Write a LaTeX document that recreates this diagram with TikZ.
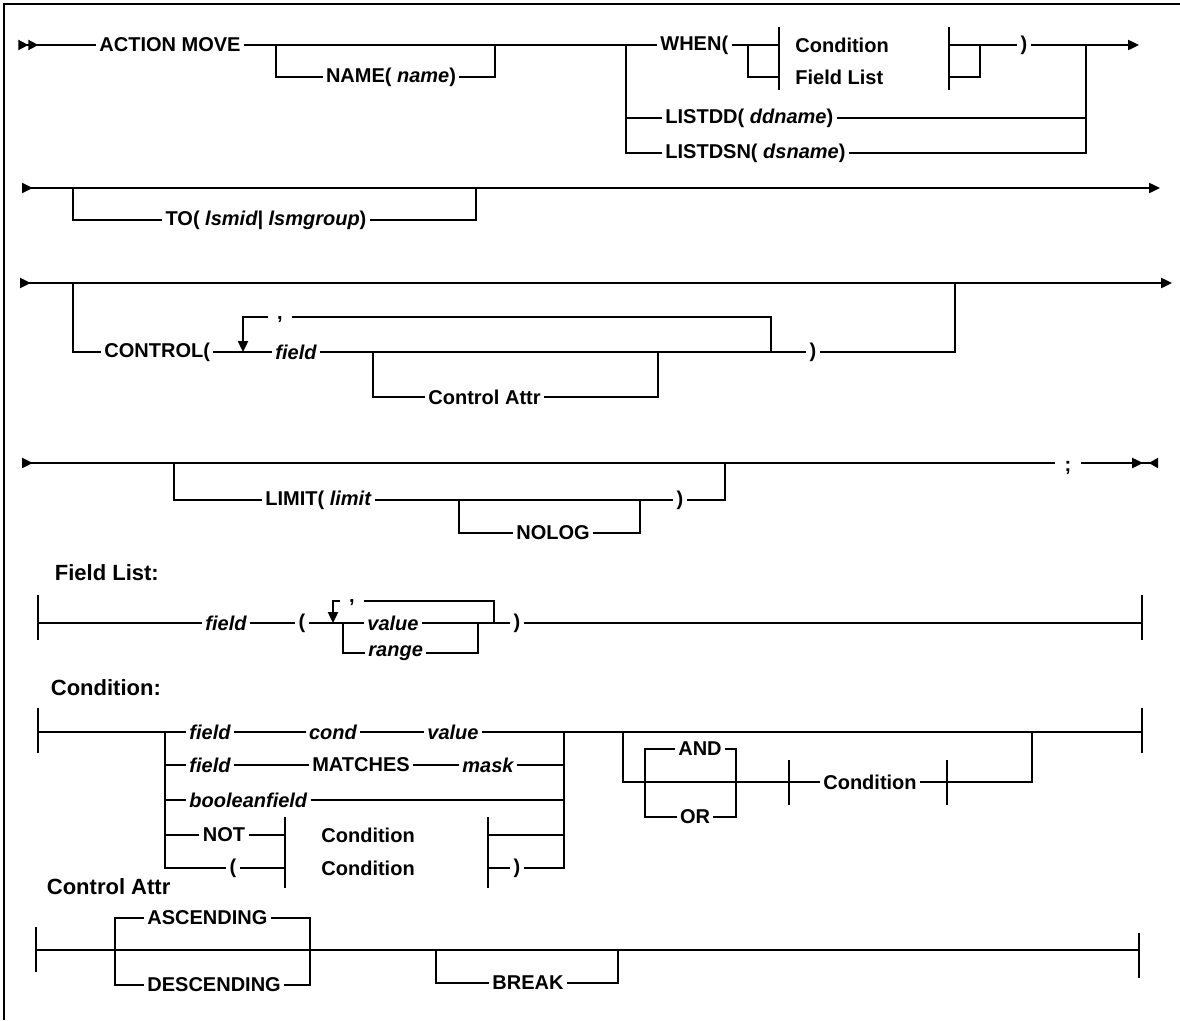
\documentclass[tikz,border=0pt]{standalone}
\usepackage{fontspec}
\setmainfont{Liberation Sans}
\usepackage{tikz}
\usetikzlibrary{arrows.meta}
\newcommand{\kwfont}{\fontsize{12}{14}\selectfont\bfseries}
\newcommand{\hdfont}{\fontsize{13.2}{15}\selectfont\bfseries}
\newcommand{\railbar}[3]{\draw (#1) ++(0,-#2) -- ++(0,#2+#3);}

\begin{document}
\begin{tikzpicture}[x=0.6pt,y=-0.6pt,line width=1.1pt,>={Triangle[length=6.5pt,width=6pt]},
kw/.style={font=\kwfont,inner sep=1.5pt},
var/.style={font=\kwfont\itshape,inner sep=1.5pt},
hdr/.style={font=\hdfont,anchor=west,inner sep=0pt},
punct/.style={font=\kwfont,anchor=north,inner xsep=5pt,inner ysep=0pt},
begin/.style={arrows={{Triangle[reversed,length=6pt,width=6pt,sep=2pt]Triangle[reversed,length=6pt,width=6pt]}-}},
rowin/.style={arrows={{Triangle[reversed,length=6.5pt,width=6pt]}->}},
rowcont/.style={arrows={{Triangle[reversed,length=6.5pt,width=6pt]}-}},
halt/.style={arrows={-{Triangle[length=6.5pt,width=6pt,sep=3.5pt]Triangle[reversed,length=5.5pt,width=6pt]}}}]
\useasboundingbox (0,0) rectangle (1180,1020);
\draw (4,1020) -- (4,4) -- (1180,4);

\coordinate (s1) at (15,45);
\coordinate (n1) at (276,45);
\coordinate (n2) at (495,45);
\coordinate (w1) at (626,45);
\coordinate (w2) at (748,45);
\coordinate (tl) at (779,45);
\coordinate (tr) at (949,45);
\coordinate (w3) at (980,45);
\coordinate (w4) at (1086,45);
\coordinate (e1) at (1139,45);
\node[kw] (am) at (170,45) {ACTION MOVE};
\node[kw] (nm) at (391,77) {NAME( \textit{name})};
\node[kw,anchor=west] (wh) at (657,45) {WHEN(};
\node[kw,anchor=west] (cd) at (792,45) {Condition};
\node[kw,anchor=west] (fl) at (792,77) {Field List};
\node[kw] (rp1) at (1024,45) {)};
\node[kw,anchor=west] (ld) at (662,118) {LISTDD( \textit{ddname})};
\node[kw,anchor=west] (ls) at (662,153) {LISTDSN( \textit{dsname})};
\draw[begin] (s1) -- (am);
\draw (am) -- (wh);
\draw (n1) |- (nm) -| (n2);
\draw (wh) -- (tl);
\draw (w2) |- (tl |- fl);
\railbar{tl}{18}{45}
\railbar{tr}{18}{45}
\draw (tr) -- (rp1);
\draw (tr |- fl) -| (w3);
\draw[->] (rp1) -- (e1);
\draw (w1) |- (ld);
\draw (w1) |- (ls);
\draw (ld) -| (w4);
\draw (ls) -| (w4);

\coordinate (s2) at (22,188);
\coordinate (t1) at (73,188);
\coordinate (t2) at (476,188);
\coordinate (e2) at (1160,188);
\node[kw] (to) at (266,220) {TO( \textit{lsmid| lsmgroup})};
\draw[rowin] (s2) -- (e2);
\draw (t1) |- (to) -| (t2);

\coordinate (s3) at (20,283);
\coordinate (c1) at (73,283);
\coordinate (c2) at (955,283);
\coordinate (e3) at (1172,283);
\coordinate (p1) at (243,352);
\coordinate (p2) at (771,352);
\coordinate (q2) at (771,317);
\coordinate (ca1) at (373,352);
\coordinate (ca2) at (658,352);
\node[kw,anchor=west] (ctl) at (101,352) {CONTROL(};
\node[var,anchor=west] (cf) at (272,352) {field};
\node[punct] (cm) at (280,316) {,};
\node[kw] (rp3) at (813,352) {)};
\node[kw,anchor=west] (cat) at (425,397) {Control Attr};
\draw[rowin] (s3) -- (e3);
\draw (c1) |- (ctl);
\draw (ctl) -- (cf) -- (rp3) -| (c2);
\draw (p2) -- (q2) -- (q2 -| cm.east);
\draw[->] (q2 -| cm.west) -| (p1);
\draw (ca1) |- (cat) -| (ca2);

\coordinate (s4) at (22,463);
\coordinate (m1) at (174,463);
\coordinate (m2) at (725,463);
\coordinate (e4) at (1158,463);
\coordinate (g1) at (459,500);
\coordinate (g2) at (640,500);
\node[kw,anchor=west] (lim) at (262,500) {LIMIT( \textit{limit}};
\node[kw] (rp4) at (680,500) {)};
\node[kw,anchor=west] (nlg) at (513,533) {NOLOG};
\node[punct] (sc) at (1068,460) {;};
\draw[rowcont] (s4) -- (s4 -| sc.west);
\draw[halt] (s4 -| sc.east) -- (e4);
\draw (m1) |- (lim) -- (rp4) -| (m2);
\draw (g1) |- (nlg) -| (g2);

\node[hdr] (hfl) at (54,573) {Field List:};
\coordinate (f0) at (38,623);
\coordinate (fa) at (333,623);
\coordinate (fb) at (343,623);
\coordinate (fc) at (478,623);
\coordinate (fd) at (494,623);
\coordinate (fq) at (494,601);
\coordinate (fe) at (1142,623);
\node[var] (ff) at (226,623) {field};
\node[kw] (flp) at (302,623) {(};
\node[var,anchor=west] (fv) at (364,623) {value};
\node[var,anchor=west] (fr) at (365,653) {range};
\node[punct] (fcm) at (352,599) {,};
\node[kw] (frp) at (517,623) {)};
\railbar{f0}{28}{17}
\railbar{fe}{28}{17}
\draw (f0) -- (ff) -- (flp) -- (fv) -- (frp) -- (fe);
\draw (fb) |- (fr) -| (fc);
\draw (fd) -- (fq) -- (fq -| fcm.east);
\draw[->] (fq -| fcm.west) -| (fa);

\node[hdr] (hcd) at (50,688) {Condition:};
\coordinate (k0) at (38,732);
\coordinate (k1) at (165,732);
\coordinate (k2) at (564,732);
\coordinate (k3) at (623,732);
\coordinate (k4) at (1032,732);
\coordinate (k5) at (1142,732);
\coordinate (kd3) at (285,835);
\coordinate (kd4) at (488,835);
\coordinate (ke4) at (285,868);
\coordinate (ke5) at (488,868);
\coordinate (ko1) at (645,782);
\coordinate (ko2) at (736,782);
\coordinate (kt1) at (789,782);
\coordinate (kt2) at (947,782);
\node[var,anchor=west] (ka1) at (186,732) {field};
\node[var] (ka2) at (333,732) {cond};
\node[var] (ka3) at (453,732) {value};
\node[var,anchor=west] (kb1) at (186,765) {field};
\node[kw] (kb2) at (361,765) {MATCHES};
\node[var] (kb3) at (488,765) {mask};
\node[var,anchor=west] (kc1) at (186,800) {booleanfield};
\node[kw] (kd1) at (224,835) {NOT};
\node[kw,anchor=west] (kd2) at (318,835) {Condition};
\node[kw] (ke1) at (233,868) {(};
\node[kw,anchor=west] (ke2) at (318,868) {Condition};
\node[kw] (ke3) at (517,868) {)};
\node[kw] (kand) at (700,749) {AND};
\node[kw] (kor) at (695,817) {OR};
\node[kw] (kc) at (870,782) {Condition};
\railbar{k0}{24}{21}
\railbar{k5}{24}{21}
\draw (k0) -- (ka1) -- (ka2) -- (ka3) -- (k5);
\draw (k1) |- (kb1) -- (kb2) -- (kb3) -| (k2);
\draw (k1) |- (kc1) -| (k2);
\draw (k1) |- (kd1) -- (kd3);
\draw (kd4) -| (k2);
\draw (k1) |- (ke1) -- (ke4);
\draw (ke5) -- (ke3) -| (k2);
\railbar{kd3}{18}{20}
\railbar{kd4}{18}{20}
\railbar{ke4}{18}{20}
\railbar{ke5}{18}{20}
\draw (k3) |- (kt1);
\draw (ko1) |- (kand) -| (ko2);
\draw (ko1) |- (kor) -| (ko2);
\railbar{kt1}{22}{23}
\railbar{kt2}{22}{23}
\draw (kt1) -- (kc) -- (kt2) -| (k4);

\node[hdr] (hca) at (46,887) {Control Attr};
\coordinate (a0) at (36,950);
\coordinate (a1) at (115,950);
\coordinate (a2) at (310,950);
\coordinate (a3) at (436,950);
\coordinate (a4) at (618,950);
\coordinate (a5) at (1139,950);
\node[kw,anchor=west] (asc) at (144,918) {ASCENDING};
\node[kw,anchor=west] (dsc) at (144,985) {DESCENDING};
\node[kw] (brk) at (528,983) {BREAK};
\railbar{a0}{23}{22}
\railbar{a5}{17}{28}
\draw (a0) -- (a5);
\draw (a1) |- (asc) -| (a2);
\draw (a1) |- (dsc) -| (a2);
\draw (a3) |- (brk) -| (a4);
\end{tikzpicture}
\end{document}
